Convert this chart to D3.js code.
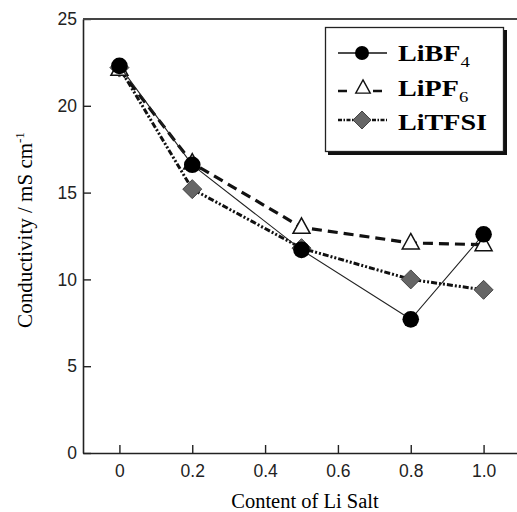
<!DOCTYPE html>
<html>
<head>
    <meta charset="UTF-8">
    <title>Conductivity vs Li salt content</title>
    <style>
        body { margin: 0; background: #fff; }
        svg { display: block; }
    </style>
</head>
<body>
    <div id="chart"></div>
    <script src="https://cdn.jsdelivr.net/npm/d3@7"></script>
    <script>

    // data
    const saltContent = [0, 0.2, 0.5, 0.8, 1.0];
    const liBF4 = [22.3, 16.6, 11.7, 7.7, 12.6];
    const liPF6 = [22.1, 16.7, 13.0, 12.1, 12.0];
    const liTFSI = [22.2, 15.2, 11.8, 10.0, 9.4];
    const xTicks = [0, 0.2, 0.4, 0.6, 0.8, 1.0];
    const xTickLabels = ["0", "0.2", "0.4", "0.6", "0.8", "1.0"];
    const yTicks = [0, 5, 10, 15, 20, 25];

    const W = 517, H = 512;
    const margin = {top: 19, left: 83, bottom: 59};
    const plotW = 437, plotH = H - margin.top - margin.bottom;

    const svg = d3.select("#chart")
        .append("svg")
        .attr("width", W)
        .attr("height", H);

    const x = d3.scaleLinear().domain([-0.1, 1.1]).range([margin.left, margin.left + plotW]);
    const y = d3.scaleLinear().domain([0, 25]).range([margin.top + plotH, margin.top]);

    const tickFont = "'Liberation Sans', Arial, sans-serif";
    const serif = "'Liberation Serif', 'Times New Roman', serif";

    // axes, ticks pointing inward
    const yAxis = svg.append("g")
        .attr("transform", `translate(${margin.left},0)`)
        .call(d3.axisLeft(y).tickValues(yTicks).tickSizeInner(-8).tickSizeOuter(0).tickPadding(6));
    const xAxis = svg.append("g")
        .attr("transform", `translate(0,${margin.top + plotH})`)
        .call(d3.axisBottom(x).tickValues(xTicks).tickFormat((d, i) => xTickLabels[i])
            .tickSizeInner(-8).tickSizeOuter(0).tickPadding(11.5));
    [xAxis, yAxis].forEach(a => {
        a.select(".domain").attr("stroke", "#222").attr("stroke-width", 1.6);
        a.selectAll(".tick line").attr("stroke", "#222").attr("stroke-width", 1.4);
        a.selectAll(".tick text").attr("fill", "#222")
            .style("font-family", tickFont).style("font-size", "17.5px");
    });
    // top frame line
    svg.append("line")
        .attr("x1", x.range()[0]).attr("x2", x.range()[1])
        .attr("y1", y(25)).attr("y2", y(25))
        .attr("stroke", "#444").attr("stroke-width", 1.8);

    // axis titles
    svg.append("text")
        .attr("x", 305).attr("y", 508)
        .attr("text-anchor", "middle")
        .style("font-family", serif).style("font-size", "20.5px")
        .text("Content of Li Salt");
    const yTitle = svg.append("text")
        .attr("transform", "translate(32,230) rotate(-90)")
        .attr("text-anchor", "middle")
        .style("font-family", serif).style("font-size", "21px");
    yTitle.append("tspan").text("Conductivity / mS cm");
    yTitle.append("tspan").attr("dy", -8).style("font-size", "13px").text("-1");

    const line = d3.line().x(d => x(d[0])).y(d => y(d[1]));
    const pts = vals => saltContent.map((c, i) => [c, vals[i]]);

    const diamond = s => `M0,${-s}L${s},0L0,${s}L${-s},0Z`;
    const triangle = s => `M0,${-s * 0.95}L${s * 0.85},${s * 0.6}L${-s * 0.85},${s * 0.6}Z`;

    // LiTFSI (drawn first, sits underneath)
    svg.append("path")
        .datum(pts(liTFSI))
        .attr("d", line)
        .attr("fill", "none").attr("stroke", "#111")
        .attr("stroke-width", 3).attr("stroke-dasharray", "6,2,2,2,2,2");
    svg.append("g").selectAll("path")
        .data(pts(liTFSI))
        .join("path")
        .attr("transform", d => `translate(${x(d[0])},${y(d[1])})`)
        .attr("d", diamond(9.5))
        .attr("fill", "#666").attr("stroke", "#444").attr("stroke-width", 1);

    // LiPF6
    svg.append("path")
        .datum(pts(liPF6))
        .attr("d", line)
        .attr("fill", "none").attr("stroke", "#111")
        .attr("stroke-width", 3.2).attr("stroke-dasharray", "10,6");
    svg.append("g").selectAll("path")
        .data(pts(liPF6))
        .join("path")
        .attr("transform", d => `translate(${x(d[0])},${y(d[1])})`)
        .attr("d", triangle(10))
        .attr("fill", "#fff").attr("stroke", "#111").attr("stroke-width", 1.5);

    // LiBF4
    svg.append("path")
        .datum(pts(liBF4))
        .attr("d", line)
        .attr("fill", "none").attr("stroke", "#222").attr("stroke-width", 1.1);
    svg.append("g").selectAll("circle")
        .data(pts(liBF4))
        .join("circle")
        .attr("cx", d => x(d[0])).attr("cy", d => y(d[1]))
        .attr("r", 8.3)
        .attr("fill", "#000");

    // legend with drop shadow
    const leg = svg.append("g");
    leg.append("rect").attr("x", 328).attr("y", 30).attr("width", 179).attr("height", 125).attr("fill", "#111");
    leg.append("rect").attr("x", 325.5).attr("y", 27.5).attr("width", 178).attr("height", 124)
        .attr("fill", "#fff").attr("stroke", "#222").attr("stroke-width", 1.3);

    const legendItems = [
        {name: "LiBF", sub: "4", ly: 53, ty: 61},
        {name: "LiPF", sub: "6", ly: 88, ty: 96},
        {name: "LiTFSI", sub: "", ly: 120, ty: 130}
    ];
    // sample lines
    leg.append("line").attr("x1", 338).attr("x2", 387).attr("y1", 53).attr("y2", 53)
        .attr("stroke", "#111").attr("stroke-width", 1.3);
    leg.append("circle").attr("cx", 362).attr("cy", 53).attr("r", 7).attr("fill", "#000");
    leg.append("line").attr("x1", 338).attr("x2", 389).attr("y1", 91).attr("y2", 91)
        .attr("stroke", "#111").attr("stroke-width", 2.5).attr("stroke-dasharray", "9,7,0,19,9");
    leg.append("path").attr("transform", "translate(363,88)").attr("d", triangle(8.5))
        .attr("fill", "#fff").attr("stroke", "#111").attr("stroke-width", 1.4);
    leg.append("line").attr("x1", 338).attr("x2", 387).attr("y1", 120).attr("y2", 120)
        .attr("stroke", "#111").attr("stroke-width", 2.5).attr("stroke-dasharray", "4,1.5,1.5,1.5");
    leg.append("path").attr("transform", "translate(362,120)").attr("d", diamond(9))
        .attr("fill", "#666").attr("stroke", "#444").attr("stroke-width", 1);

    legendItems.forEach(it => {
        const t = leg.append("text")
            .attr("transform", `translate(398,${it.ty}) scale(1.25,1)`)
            .style("font-family", serif).style("font-size", "22.5px").style("font-weight", "bold");
        t.append("tspan").text(it.name);
        if (it.sub) t.append("tspan").attr("dy", 6).style("font-size", "15px").style("font-weight", "normal").text(it.sub);
    });

    </script>
</body>
</html>
